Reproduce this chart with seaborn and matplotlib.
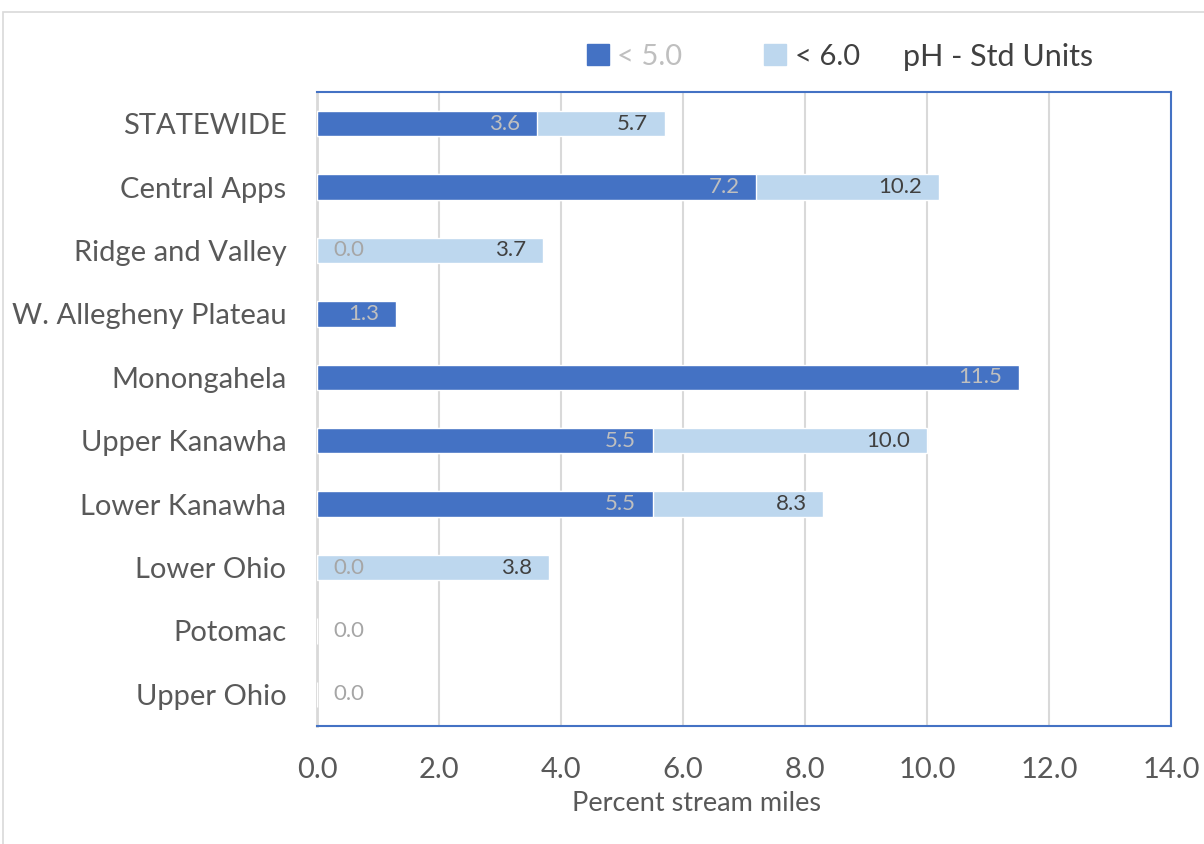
import numpy as np
import pandas as pd
import matplotlib
matplotlib.use("Agg")
import matplotlib.pyplot as plt
import seaborn as sns
from matplotlib.patches import Patch, Rectangle

# data
regions = ["STATEWIDE", "Central Apps", "Ridge and Valley", "W. Allegheny Plateau",
           "Monongahela", "Upper Kanawha", "Lower Kanawha", "Lower Ohio",
           "Potomac", "Upper Ohio"]
ph_below_5 = [3.6, 7.2, 0.0, 1.3, 11.5, 5.5, 5.5, 0.0, 0.0, 0.0]
ph_below_6 = [5.7, 10.2, 3.7, np.nan, np.nan, 10.0, 8.3, 3.8, np.nan, np.nan]

dark = "#4472C4"
light = "#BDD7EE"

sns.set_style("white")
plt.rcParams['font.family'] = ['Lato', 'DejaVu Sans']

df = pd.DataFrame({"region": regions, "lt5": ph_below_5, "lt6": ph_below_6})

fig = plt.figure(figsize=(12.04, 8.44), dpi=100)
ax = fig.add_axes([0.2633, 0.1398, 0.7093, 0.7512])

# light series behind, dark series on top (100% overlap)
sns.barplot(data=df.dropna(subset=["lt6"]), x="lt6", y="region", order=regions,
            color=light, width=0.4, orient="h", ax=ax, saturation=1, zorder=3)
sns.barplot(data=df, x="lt5", y="region", order=regions,
            color=dark, width=0.4, orient="h", ax=ax, saturation=1, zorder=4)

# data labels
for i, (a, b) in enumerate(zip(ph_below_5, ph_below_6)):
    if not np.isnan(b):
        ax.annotate(f"{b:.1f}", (b, i), xytext=(-12, 0), textcoords="offset points",
                    ha="right", va="center", fontsize=16, color="#404040", zorder=6)
    if a == 0:
        ax.annotate(f"{a:.1f}", (a, i), xytext=(11.5, 0), textcoords="offset points",
                    ha="left", va="center", fontsize=16, color="#A6A6A6", zorder=6)
    else:
        ax.annotate(f"{a:.1f}", (a, i), xytext=(-12, 0), textcoords="offset points",
                    ha="right", va="center", fontsize=16, color="#BFBFBF", zorder=6)

ax.set_xlim(0, 14)
ax.set_ylim(9.5, -0.5)
ax.set_xticks(np.arange(0, 14.1, 2))
ax.set_xticklabels([f"{v:.1f}" for v in np.arange(0, 14.1, 2)])
ax.grid(axis="x", color="#D9D9D9", linewidth=1.5, zorder=0)
ax.set_axisbelow(True)
ax.tick_params(axis="both", length=0, labelsize=21, labelcolor="#595959")
ax.tick_params(axis="y", pad=22)
ax.tick_params(axis="x", pad=22)
ax.set_ylabel("")
ax.set_xlabel("Percent stream miles", fontsize=19.5, color="#595959")
ax.xaxis.set_label_coords(0.444, -0.103)

for side in ["top", "right", "bottom"]:
    ax.spines[side].set_color(dark)
    ax.spines[side].set_linewidth(1.5)
ax.spines["left"].set_color("#D9D9D9")
ax.spines["left"].set_linewidth(2)

# legend
handles = [Patch(facecolor=dark, edgecolor=dark), Patch(facecolor=light, edgecolor=light)]
leg = fig.legend(handles, ["< 5.0", "< 6.0"], ncol=2, loc="center left",
                 bbox_to_anchor=(0.4655, 0.933), frameon=False, fontsize=21,
                 handlelength=0.75, handleheight=0.75, handletextpad=0.3,
                 columnspacing=2.8)
leg.get_texts()[0].set_color("#BFBFBF")
leg.get_texts()[1].set_color("#404040")
fig.text(903 / 1204, 0.933, "pH - Std Units", fontsize=22, color="#404040",
         ha="left", va="center")

# outer chart border
fig.patches.append(Rectangle((3 / 1204, -0.1), 1.2, 1 - 12 / 844 + 0.1,
                             transform=fig.transFigure, fill=False,
                             edgecolor="#D9D9D9", linewidth=1.2))

fig.savefig("out.png", dpi=100)
